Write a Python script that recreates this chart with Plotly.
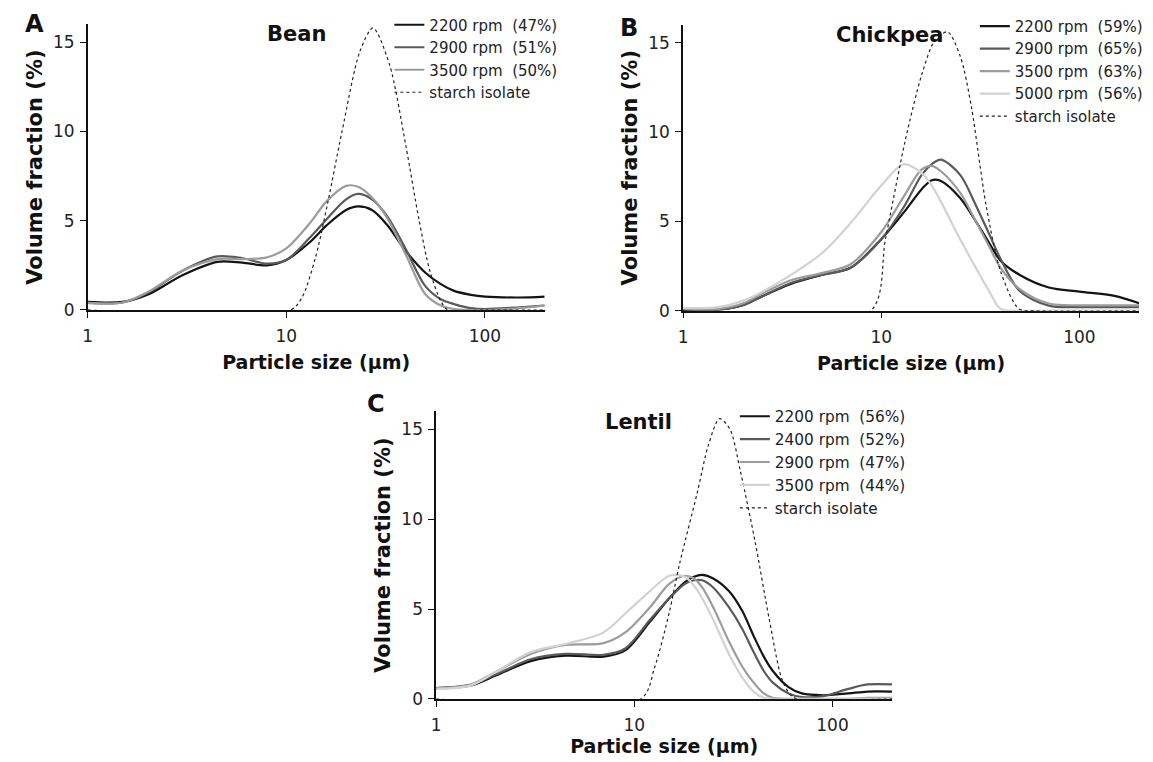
import numpy as np
import plotly.graph_objects as go

FONT = "DejaVu Sans"
NB = "\u00a0"

# ---------------- data ----------------
# Panel A – Bean
bean_x = [1, 1.5, 2, 3, 4.5, 6, 8, 10, 13, 16, 20, 23, 27, 32, 40, 50, 60, 70, 85, 100, 150, 200]
bean_2200 = [0.45, 0.45, 0.85, 1.95, 2.7, 2.65, 2.5, 2.8, 3.75, 4.75, 5.6, 5.8, 5.6, 4.8, 3.3, 2.1, 1.45, 1.07, 0.85, 0.75, 0.7, 0.75]
bean_2900 = [0.4, 0.42, 0.95, 2.2, 3.0, 2.9, 2.6, 2.8, 4.0, 5.1, 6.2, 6.5, 6.2, 5.3, 3.4, 1.35, 0.6, 0.33, 0.1, 0.05, 0.15, 0.25]
bean_3500 = [0.4, 0.42, 1.0, 2.2, 2.85, 2.85, 2.95, 3.45, 4.8, 6.1, 6.95, 6.9, 6.3, 5.2, 3.1, 0.9, 0.25, 0.05, 0.0, 0.0, 0.1, 0.25]
bean_starch_x = [1, 10.5, 12, 14, 16.2, 19, 23.5, 27.3, 33, 40, 46.5, 52.8, 60, 65, 100, 200]
bean_starch = [0, 0, 0.7, 2.9, 6.05, 9.9, 14.5, 15.8, 13.8, 9.2, 5.1, 2.2, 0.5, 0, 0, 0]
bean_names = ["2200 rpm  (47%)", "2900 rpm  (51%)", "3500 rpm  (50%)"]

# Panel B – Chickpea
chick_x = [1, 1.5, 2, 2.5, 3.5, 5, 7, 10, 13, 16, 18, 20, 25, 30, 35, 40, 50, 70, 100, 150, 200]
chick_2200 = [0.05, 0.05, 0.3, 0.8, 1.5, 2.0, 2.4, 4.0, 5.5, 6.8, 7.3, 7.25, 6.3, 5.0, 3.8, 2.8, 2.0, 1.3, 1.07, 0.83, 0.42]
chick_2900 = [0.05, 0.05, 0.3, 0.8, 1.55, 2.0, 2.4, 4.0, 5.8, 7.6, 8.2, 8.45, 7.6, 5.9, 4.3, 2.9, 1.1, 0.28, 0.2, 0.2, 0.2]
chick_3500 = [0.1, 0.1, 0.4, 0.95, 1.7, 2.1, 2.6, 4.4, 6.4, 7.9, 8.1, 7.8, 6.6, 5.0, 3.6, 2.4, 1.2, 0.4, 0.3, 0.3, 0.3]
chick_5000 = [0.15, 0.2, 0.55, 1.05, 2.0, 3.2, 4.9, 7.0, 8.2, 7.7, 7.0, 6.1, 4.0, 2.4, 1.1, 0.1, 0, 0, 0, 0, 0]
chick_starch_x = [1, 8.84, 10.5, 13.2, 16.0, 18.6, 21.6, 25.1, 28.5, 33.8, 40, 49.5, 60, 200]
chick_starch = [0, 0, 4.0, 9.5, 13.2, 15.1, 15.6, 14.2, 11.4, 5.9, 2.2, 0.1, 0, 0]
chick_names = ["2200 rpm  (59%)", "2900 rpm  (65%)", "3500 rpm  (63%)", "5000 rpm  (56%)"]

# Panel C – Lentil
lent_x = [1, 1.5, 2, 3, 4.5, 7, 9, 12, 15, 18, 20, 22, 25, 30, 35, 40, 45, 50, 60, 70, 90, 120, 150, 200]
lent_2200 = [0.6, 0.75, 1.3, 2.1, 2.4, 2.35, 2.7, 4.3, 5.6, 6.5, 6.8, 6.9, 6.7, 6.0, 4.9, 3.5, 2.35, 1.55, 0.65, 0.3, 0.2, 0.3, 0.4, 0.4]
lent_2400 = [0.6, 0.8, 1.35, 2.2, 2.5, 2.45, 2.8, 4.4, 5.6, 6.4, 6.6, 6.6, 6.2, 5.1, 3.9, 2.6, 1.55, 0.9, 0.3, 0.1, 0.15, 0.55, 0.8, 0.8]
lent_2900 = [0.6, 0.8, 1.5, 2.5, 3.0, 3.1, 3.7, 5.1, 6.4, 6.85, 6.7, 6.2, 5.1, 3.2, 1.8, 0.9, 0.3, 0.05, 0, 0, 0, 0, 0.05, 0.05]
lent_3500 = [0.55, 0.75, 1.5, 2.6, 3.05, 3.7, 4.75, 6.0, 6.85, 6.8, 6.3, 5.6, 4.4, 2.5, 1.2, 0.4, 0.05, 0, 0, 0, 0, 0, 0, 0]
lent_starch_x = [1, 10.8, 12.7, 15, 16.9, 20.8, 23.6, 26.9, 30.4, 34.4, 40.6, 48, 55.5, 61.5, 66, 200]
lent_starch = [0, 0, 1.8, 4.8, 7.5, 11.5, 14.1, 15.6, 15.0, 12.6, 8.8, 4.4, 1.1, 0.2, 0, 0]
lent_names = ["2200 rpm  (56%)", "2400 rpm  (52%)", "2900 rpm  (47%)", "3500 rpm  (44%)"]

x_ticks = [1, 10, 100]
y_ticks = [0, 5, 10, 15]

# ---------------- styling ----------------
GREYS4 = ["#141414", "#5a5a5a", "#9c9c9c", "#d2d2d2"]
GREYS3 = ["#141414", "#5a5a5a", "#9c9c9c"]

W, H = 1153, 762


def px_dom_x(a, b):
    return [a / W, b / W]


def px_dom_y(top, bottom):
    return [1 - bottom / H, 1 - top / H]


fig = go.Figure()


def add_panel(xs, series, names, colors, sx, sy, xa, ya, legend):
    for vals, name, col in zip(series, names, colors):
        fig.add_trace(go.Scatter(
            x=xs, y=vals, mode="lines", name=name.replace(" ", NB),
            line=dict(color=col, width=2.2, shape="spline", smoothing=0.9),
            xaxis=xa, yaxis=ya, legend=legend))
    fig.add_trace(go.Scatter(
        x=sx, y=sy, mode="lines", name="starch" + NB + "isolate",
        line=dict(color="#222222", width=1.2, dash="dot", shape="spline", smoothing=0.8),
        xaxis=xa, yaxis=ya, legend=legend))


add_panel(bean_x, [bean_2200, bean_2900, bean_3500], bean_names, GREYS3,
          bean_starch_x, bean_starch, "x", "y", "legend")
add_panel(chick_x, [chick_2200, chick_2900, chick_3500, chick_5000], chick_names, GREYS4,
          chick_starch_x, chick_starch, "x2", "y2", "legend2")
add_panel(lent_x, [lent_2200, lent_2400, lent_2900, lent_3500], lent_names, GREYS4,
          lent_starch_x, lent_starch, "x3", "y3", "legend3")

tickfont = dict(family=FONT, size=17, color="#222222")


def xaxis(dom, anchor, standoff):
    return dict(domain=dom, anchor=anchor, type="log", range=[0, np.log10(200)],
                tickvals=x_ticks, ticktext=[str(v) for v in x_ticks],
                showline=True, linecolor="#111111", linewidth=1.5,
                ticks="outside", ticklen=6, tickwidth=1.3, tickcolor="#111111",
                showgrid=False, zeroline=False, tickfont=tickfont,
                ticklabelstandoff=4,
                title=dict(text="Particle size (µm)",
                           font=dict(family=FONT, size=19, color="#111111", weight="bold"),
                           standoff=standoff))


def yaxis(dom, anchor):
    return dict(domain=dom, anchor=anchor, range=[0, 16],
                tickvals=y_ticks, showline=True, linecolor="#111111", linewidth=1.5,
                ticks="outside", ticklen=6, tickwidth=1.3, tickcolor="#111111",
                showgrid=False, zeroline=False, tickfont=tickfont,
                ticklabelstandoff=2,
                title=dict(text="Volume fraction (%)",
                           font=dict(family=FONT, size=21, color="#111111", weight="bold"),
                           standoff=5))


def legend(xpx, ypx, fs):
    return dict(x=xpx / W, y=1 - ypx / H, xanchor="left", yanchor="top",
                bgcolor="rgba(0,0,0,0)", font=dict(family=FONT, size=fs, color="#222222"),
                tracegroupgap=0, itemwidth=30, borderwidth=0)


fig.update_layout(
    width=W, height=H,
    margin=dict(l=0, r=0, t=0, b=0),
    paper_bgcolor="white", plot_bgcolor="white",
    font=dict(family=FONT, color="#222222"),
    showlegend=True,
    xaxis=xaxis(px_dom_x(75, 534), "y", 11),
    yaxis=yaxis(px_dom_y(16.6, 306), "x"),
    xaxis2=xaxis(px_dom_x(673, 1131), "y2", 11),
    yaxis2=yaxis(px_dom_y(16.9, 306.7), "x2"),
    xaxis3=xaxis(px_dom_x(425, 883), "y3", 5),
    yaxis3=yaxis(px_dom_y(408.8, 700), "x3"),
    legend=legend(378, 0.5, 15),
    legend2=legend(966, 1.8, 15),
    legend3=legend(725, 397, 15.3),
)

annots = [
    dict(text="<b>A</b>", x=22 / W, y=1 - 16 / H, font=dict(family=FONT, size=24, color="#111")),
    dict(text="<b>B</b>", x=619 / W, y=1 - 20 / H, font=dict(family=FONT, size=24, color="#111")),
    dict(text="<b>C</b>", x=365 / W, y=1 - 401 / H, font=dict(family=FONT, size=24, color="#111")),
    dict(text="<b>Bean</b>", x=285 / W, y=1 - 26 / H, font=dict(family=FONT, size=21, color="#111")),
    dict(text="<b>Chickpea</b>", x=880 / W, y=1 - 27 / H, font=dict(family=FONT, size=21, color="#111")),
    dict(text="<b>Lentil</b>", x=628 / W, y=1 - 420 / H, font=dict(family=FONT, size=21, color="#111")),
]
for a in annots:
    fig.add_annotation(xref="paper", yref="paper", showarrow=False,
                       xanchor="center", yanchor="middle", **a)

fig.write_html("out.html")
